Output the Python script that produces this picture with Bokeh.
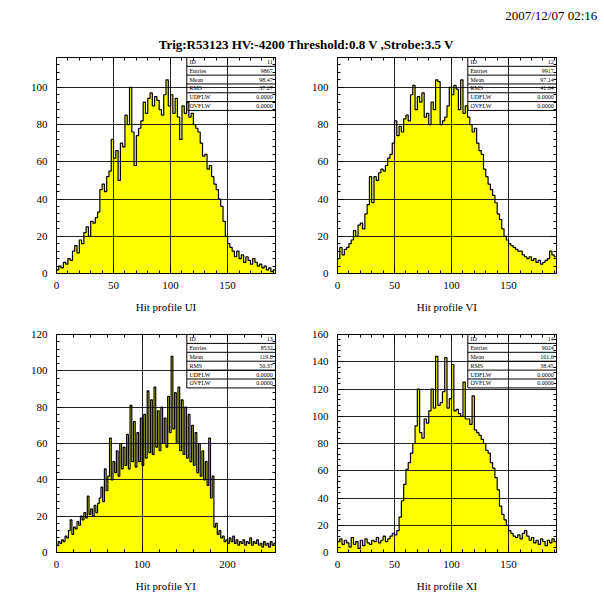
from bokeh.plotting import figure
from bokeh.models import Range1d, LinearAxis, SingleIntervalTicker, CustomJSTickFormatter
from bokeh.layouts import column, row
from bokeh.embed import file_html
from bokeh.resources import INLINE
from bokeh.core.properties import value

# ---------------- data ----------------
date_text = "2007/12/07  02:16"
main_title = "Trig:R53123 HV:-4200 Threshold:0.8 V ,Strobe:3.5 V"

bin_width = 2

ui_title = "Hit profile UI"
ui_counts = [2, 4, 3, 6, 5, 8, 7, 12, 15, 11, 18, 16, 22, 25, 20, 28, 27, 30, 33, 45,
             48, 44, 52, 55, 72, 62, 66, 50, 70, 68, 85, 80, 100, 76, 58, 74, 78, 82, 92, 86,
             94, 97, 90, 95, 93, 88, 85, 96, 104, 90, 96, 86, 94, 84, 72, 90, 86, 92, 84, 86,
             80, 78, 76, 70, 63, 64, 56, 58, 52, 48, 45, 40, 36, 28, 20, 16, 14, 12, 9, 12,
             8, 10, 6, 9, 7, 5, 8, 6, 4, 5, 3, 4, 2, 3, 1, 2]

vi_title = "Hit profile VI"
vi_counts = [8, 14, 10, 13, 14, 16, 18, 23, 20, 26, 27, 24, 32, 37, 52, 38, 52, 50, 54, 56,
             55, 58, 62, 64, 70, 82, 74, 79, 76, 83, 85, 82, 96, 101, 88, 95, 92, 97, 84, 86,
             80, 92, 88, 104, 103, 80, 82, 84, 90, 100, 96, 101, 99, 88, 104, 86, 90, 84, 80, 76,
             78, 70, 66, 64, 56, 52, 48, 45, 42, 38, 32, 29, 24, 20, 18, 16, 15, 14, 13, 12,
             12, 10, 9, 8, 9, 7, 8, 6, 7, 5, 6, 7, 8, 12, 10, 9]

yi_title = "Hit profile YI"
yi_counts = [4, 6, 5, 7, 6, 9, 8, 12, 18, 10, 14, 13, 17, 15, 20, 18, 22, 19, 31, 21,
             24, 20, 26, 22, 27, 30, 36, 28, 46, 34, 42, 63, 40, 50, 44, 56, 42, 60, 46, 58,
             48, 65, 46, 81, 50, 72, 47, 66, 50, 74, 48, 76, 52, 89, 55, 84, 54, 91, 58, 78,
             56, 80, 60, 74, 58, 86, 66, 108, 68, 88, 60, 91, 56, 84, 54, 80, 52, 76, 50, 70,
             48, 66, 44, 60, 42, 56, 40, 50, 37, 63, 30, 42, 14, 16, 10, 12, 8, 9, 6, 7,
             5, 8, 6, 9, 5, 7, 4, 6, 5, 7, 4, 6, 5, 8, 4, 6, 5, 7, 4, 5,
             3, 6, 4, 5, 3, 6, 4, 5]

xi_title = "Hit profile XI"
xi_counts = [8, 10, 6, 9, 7, 4, 11, 6, 8, 3, 9, 5, 10, 7, 6, 9, 8, 11, 7, 9,
             12, 8, 10, 12, 14, 13, 16, 26, 38, 50, 61, 66, 73, 80, 93, 120, 88, 84, 98, 95,
             104, 120, 106, 144, 108, 110, 118, 143, 106, 113, 138, 104, 105, 102, 100, 125, 98, 98, 94, 115,
             90, 88, 86, 83, 80, 75, 73, 66, 62, 55, 46, 34, 28, 24, 20, 16, 14, 12, 11, 13,
             10, 14, 16, 12, 9, 11, 7, 9, 6, 10, 8, 5, 9, 7, 10, 8]

stats_labels = ["ID", "Entries", "Mean", "RMS", "UDFLW", "OVFLW"]
ui_stats = ["11", "9867", "98.47", "37.27", "0.0000", "0.0000"]
vi_stats = ["12", "9917", "97.14", "41.64", "0.0000", "0.0000"]
yi_stats = ["13", "8532", "119.8", "50.37", "0.0000", "0.0000"]
xi_stats = ["14", "9024", "101.6", "38.45", "0.0000", "0.0000"]

# ---------------- styling ----------------
SERIF = "Liberation Serif"
YELLOW = "#ffff00"


def style_axis(ax, labels=True, standoff=8):
    ax.axis_line_color = "black"
    ax.major_tick_line_color = "black"
    ax.minor_tick_line_color = "black"
    ax.major_tick_in = 6
    ax.major_tick_out = 0
    ax.minor_tick_in = 3
    ax.minor_tick_out = 0
    if labels:
        ax.major_label_text_font = SERIF
        ax.major_label_text_font_size = "11px"
        ax.major_label_text_color = "black"
        ax.major_label_standoff = standoff
    else:
        ax.formatter = CustomJSTickFormatter(code="return '';")
        ax.major_label_text_font_size = "0px"
        ax.major_label_standoff = 0


def panel(counts, xmax, ymax, xstep, ystep, title, stats, w, h, bl, br, bt, bb):
    p = figure(width=w, height=h, x_range=Range1d(0, xmax), y_range=Range1d(0, ymax),
               output_backend="svg", toolbar_location=None,
               min_border_left=bl, min_border_right=br, min_border_top=bt, min_border_bottom=bb)
    p.background_fill_color = "white"
    p.border_fill_color = "white"
    p.outline_line_color = "black"

    xt = SingleIntervalTicker(interval=xstep, num_minor_ticks=5)
    yt = SingleIntervalTicker(interval=ystep, num_minor_ticks=5)
    p.xaxis.ticker = xt
    p.yaxis.ticker = yt
    p.xgrid.ticker = xt
    p.ygrid.ticker = yt
    style_axis(p.xaxis[0], True, 8)
    style_axis(p.yaxis[0], True, 9)
    p.xaxis.axis_label = title
    p.xaxis.axis_label_text_font = SERIF
    p.xaxis.axis_label_text_font_style = "normal"
    p.xaxis.axis_label_text_font_size = "11px"
    p.xaxis.axis_label_text_color = "black"
    p.xaxis.axis_label_standoff = 9

    top = LinearAxis(ticker=xt)
    style_axis(top, False)
    p.add_layout(top, "above")
    right = LinearAxis(ticker=yt)
    style_axis(right, False)
    p.add_layout(right, "right")

    for g in (p.xgrid[0], p.ygrid[0]):
        g.grid_line_color = "black"
        g.grid_line_alpha = 0.85
        g.grid_line_width = 1
        g.level = "overlay"

    edges = [i * bin_width for i in range(len(counts) + 1)]
    ys = list(counts) + [counts[-1]]
    p.varea_step(x=edges, y1=[0] * len(edges), y2=ys, step_mode="after",
                 fill_color=YELLOW)
    p.step(x=edges, y=ys, mode="after", line_color="black", line_width=1.2)

    # statistics box (top-right corner of the frame)
    x0, x1 = xmax * 0.595, xmax
    y0, y1 = ymax * 0.755, ymax
    n = len(stats_labels)
    rh = (y1 - y0) / n
    p.quad(left=[x0], right=[x1], bottom=[y0], top=[y1], fill_color=None,
           line_color="black", line_width=1)
    p.segment(x0=[x0] * (n - 1), x1=[x1] * (n - 1),
              y0=[y1 - k * rh for k in range(1, n)], y1=[y1 - k * rh for k in range(1, n)],
              line_color="black", line_width=1)
    yc = [y1 - (k + 0.5) * rh for k in range(n)]
    p.text(x=[x0 + 0.012 * xmax] * n, y=yc, text=stats_labels, text_align="left",
           text_baseline="middle", text_font=value(SERIF), text_font_size="6px",
           text_color="black")
    p.text(x=[x1 - 0.012 * xmax] * n, y=yc, text=stats, text_align="right",
           text_baseline="middle", text_font=value(SERIF), text_font_size="6px",
           text_color="black")
    return p


W = 604
HH = 54
header = figure(width=W, height=HH, x_range=Range1d(0, W), y_range=Range1d(0, HH),
                output_backend="svg", toolbar_location=None, min_border=0,
                x_axis_location=None, y_axis_location=None)
header.grid.visible = False
header.outline_line_color = None
header.text(x=[600], y=[HH - 15], text=[date_text], text_align="right", text_baseline="middle",
            text_font=value(SERIF), text_font_size="13px", text_color="black")
header.text(x=[306], y=[HH - 44], text=[main_title], text_align="center",
            text_baseline="middle",
            text_font=value(SERIF), text_font_style="bold", text_font_size="13px",
            text_color="black")

p_ui = panel(ui_counts, 192, 116, 50, 20, ui_title, ui_stats, 302, 270, 56, 27, 3, 51)
p_vi = panel(vi_counts, 192, 116, 50, 20, vi_title, vi_stats, 302, 270, 35, 48, 3, 51)
p_yi = panel(yi_counts, 256, 120, 100, 20, yi_title, yi_stats, 302, 274, 56, 27, 10, 46)
p_xi = panel(xi_counts, 192, 160, 50, 20, xi_title, xi_stats, 302, 274, 35, 48, 10, 46)

layout = column(header, row(p_ui, p_vi), row(p_yi, p_xi))

open("out.html", "w").write(file_html(layout, INLINE))
